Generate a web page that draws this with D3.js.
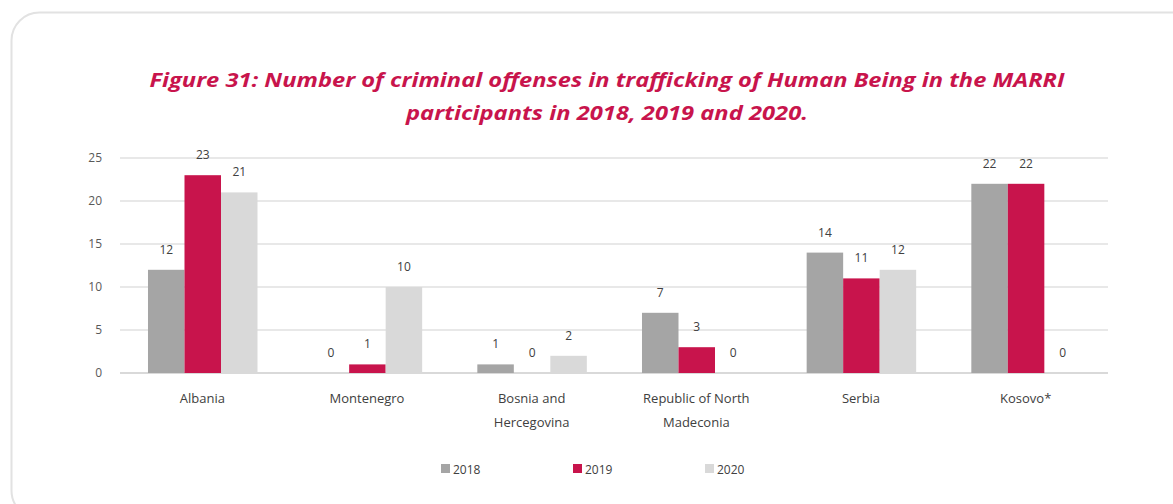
<!DOCTYPE html>
<html>
<head>
<meta charset="utf-8">
<script src="https://cdn.jsdelivr.net/npm/d3@7"></script>
<style>
  body { margin: 0; background: #fff; }
  text { font-family: "Open Sans", "Liberation Sans", sans-serif; }
</style>
</head>
<body>
<svg id="chart"></svg>
<script>
(() => {
  const width = 1173;
  const height = 504;

  const categories = [
    ["Albania"],
    ["Montenegro"],
    ["Bosnia and", "Hercegovina"],
    ["Republic of North", "Madeconia"],
    ["Serbia"],
    ["Kosovo*"],
  ];
  const years = ["2018", "2019", "2020"];
  const values2018 = [12, 0, 1, 7, 14, 22];
  const values2019 = [23, 1, 0, 3, 11, 22];
  const values2020 = [21, 10, 2, 0, 12, 0];
  const yTicks = [0, 5, 10, 15, 20, 25];
  const colors = { 2018: "#a5a5a5", 2019: "#c8144c", 2020: "#d9d9d9" };

  const series = [values2018, values2019, values2020];
  const rows = categories.map((c, i) => ({
    key: c.join(" "),
    lines: c,
    vals: years.map((y, j) => ({ year: y, value: series[j][i] })),
  }));

  const plot = { left: 120, right: 1108, top: 158, bottom: 373 };

  const svg = d3.select("#chart").attr("width", width).attr("height", height);

  // card outline
  svg
    .append("rect")
    .attr("x", 11.5)
    .attr("y", 12.5)
    .attr("width", 1200)
    .attr("height", 506)
    .attr("rx", 28)
    .attr("fill", "#fff")
    .attr("stroke", "#e2e2e2")
    .attr("stroke-width", 2);

  const titleLines = [
    { text: "Figure 31: Number of criminal offenses in trafficking of Human Being in the MARRI", y: 87, w: 915 },
    { text: "participants in 2018, 2019 and 2020.", y: 120, w: 402 },
  ];
  svg
    .selectAll("text.title")
    .data(titleLines)
    .join("text")
    .attr("class", "title")
    .attr("x", 607)
    .attr("y", (d) => d.y)
    .attr("text-anchor", "middle")
    .attr("font-size", 19)
    .attr("font-weight", "bold")
    .attr("font-style", "italic")
    .attr("fill", "#c8144c")
    .attr("textLength", (d) => d.w)
    .attr("lengthAdjust", "spacingAndGlyphs")
    .text((d) => d.text);

  const x0 = d3
    .scaleBand()
    .domain(rows.map((d) => d.key))
    .range([plot.left, plot.right]);

  const bw = x0.bandwidth();
  const x1 = d3
    .scaleBand()
    .domain(years)
    .range([bw * 0.17, bw * 0.835]);

  const y = d3.scaleLinear().domain([0, 25]).range([plot.bottom, plot.top]);

  // gridlines
  svg
    .append("g")
    .selectAll("line")
    .data(yTicks)
    .join("line")
    .attr("x1", plot.left)
    .attr("x2", plot.right)
    .attr("y1", (d) => y(d))
    .attr("y2", (d) => y(d))
    .attr("stroke", (d) => (d === 0 ? "#d9d9d9" : "#e0e0e0"))
    .attr("stroke-width", (d) => (d === 0 ? 2 : 1.5));

  const yAxis = svg
    .append("g")
    .attr("transform", `translate(${plot.left},0)`)
    .call(d3.axisLeft(y).tickValues(yTicks).tickSize(0).tickPadding(18));
  yAxis.select(".domain").remove();
  yAxis
    .selectAll("text")
    .attr("font-size", 12)
    .attr("fill", "#595959")
    .style("font-family", '"Open Sans", sans-serif');

  const groups = svg
    .append("g")
    .selectAll("g")
    .data(rows)
    .join("g")
    .attr("transform", (d) => `translate(${x0(d.key)},0)`);

  groups
    .selectAll("rect")
    .data((d) => d.vals)
    .join("rect")
    .attr("x", (d) => x1(d.year))
    .attr("width", x1.bandwidth())
    .attr("y", (d) => y(d.value))
    .attr("height", (d) => y(0) - y(d.value))
    .attr("fill", (d) => colors[d.year]);

  groups
    .selectAll("text.lbl")
    .data((d) => d.vals)
    .join("text")
    .attr("class", "lbl")
    .attr("x", (d) => x1(d.year) + x1.bandwidth() / 2)
    .attr("y", (d) => y(d.value) - 16)
    .attr("text-anchor", "middle")
    .attr("font-size", 12)
    .attr("fill", "#404040")
    .text((d) => d.value);

  // category labels
  groups
    .append("text")
    .attr("x", bw / 2)
    .attr("y", 403)
    .attr("text-anchor", "middle")
    .attr("font-size", 13)
    .attr("fill", "#404040")
    .selectAll("tspan")
    .data((d) => d.lines)
    .join("tspan")
    .attr("x", bw / 2)
    .attr("dy", (d, i) => (i === 0 ? 0 : 24))
    .text((d) => d);

  // legend
  const legendX = d3.scaleOrdinal().domain(years).range([443, 575, 707]);
  const legend = svg
    .append("g")
    .selectAll("g")
    .data(years)
    .join("g")
    .attr("transform", (d) => `translate(${legendX(d)},469)`);
  legend
    .append("rect")
    .attr("x", -2)
    .attr("y", -5)
    .attr("width", 9)
    .attr("height", 9)
    .attr("fill", (d) => colors[d]);
  legend
    .append("text")
    .attr("x", 10)
    .attr("y", 4.5)
    .attr("font-size", 12)
    .attr("fill", "#404040")
    .text((d) => d);
})();
</script>
</body>
</html>
